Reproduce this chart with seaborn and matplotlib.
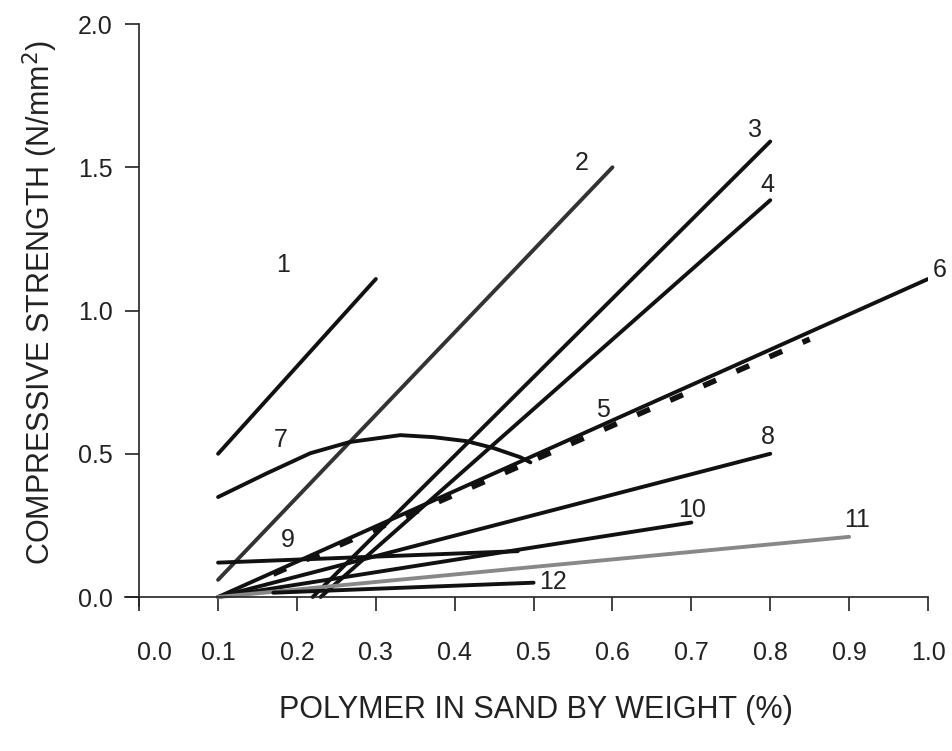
import pandas as pd
import matplotlib.pyplot as plt
import matplotlib.transforms as mtransforms
import seaborn as sns

# line end points (polymer %, strength N/mm2)
line_ids = ["1", "2", "3", "4", "5", "6", "8", "9", "10", "11", "12"]
line_x = [[0.1, 0.3], [0.1, 0.6], [0.22, 0.8], [0.23, 0.8], [0.17, 0.85],
          [0.1, 1.0], [0.1, 0.8], [0.1, 0.48], [0.1, 0.7], [0.1, 0.9], [0.17, 0.5]]
line_y = [[0.5, 1.11], [0.06, 1.5], [0.0, 1.59], [0.0, 1.385], [0.08, 0.9],
          [0.0, 1.11], [0.0, 0.5], [0.12, 0.16], [0.0, 0.26], [0.0, 0.21], [0.015, 0.05]]

# curve 7
curve7_x = [0.1, 0.162, 0.217, 0.267, 0.331, 0.373, 0.415, 0.449, 0.483, 0.496]
curve7_y = [0.349, 0.432, 0.502, 0.541, 0.565, 0.558, 0.544, 0.52, 0.488, 0.47]

# curve number labels
label_text = ["1", "2", "3", "4", "5", "6", "7", "8", "9", "10", "11", "12"]
label_x = [0.183, 0.561, 0.781, 0.796, 0.588, 1.015, 0.179, 0.797, 0.188, 0.701, 0.91, 0.525]
label_y = [1.158, 1.514, 1.629, 1.437, 0.652, 1.141, 0.548, 0.558, 0.199, 0.303, 0.269, 0.052]

xticks = [0.0, 0.1, 0.2, 0.3, 0.4, 0.5, 0.6, 0.7, 0.8, 0.9, 1.0]
yticks = [0.0, 0.5, 1.0, 1.5, 2.0]

sns.set_theme(style="ticks")
plt.rcParams["font.family"] = ["Liberation Sans", "DejaVu Sans"]

fig = plt.figure(figsize=(9.52, 7.51), dpi=100)
ax = fig.add_axes([0.1313, 0.1936, 0.8435, 0.7744])

colors = {"2": "#333333", "11": "#888888"}
for lid, xs, ys in zip(line_ids, line_x, line_y):
    df = pd.DataFrame({"x": xs, "y": ys})
    if lid == "5":
        sns.lineplot(data=df, x="x", y="y", ax=ax, color="#111111", lw=4.0,
                     estimator=None, sort=False)
        ax.lines[-1].set_dashes([2.5, 4])
    else:
        sns.lineplot(data=df, x="x", y="y", ax=ax, color=colors.get(lid, "#111111"),
                     lw=2.8, estimator=None, sort=False)

df7 = pd.DataFrame({"x": curve7_x, "y": curve7_y})
sns.lineplot(data=df7, x="x", y="y", ax=ax, color="#111111", lw=2.8,
             estimator=None, sort=False)

for t, lx, ly in zip(label_text, label_x, label_y):
    ax.text(lx, ly, t, fontsize=18, ha="center", va="center", color="#222222")

ax.set_xlim(-0.018, 1.0)
ax.set_ylim(-0.03, 2.0)
ax.spines["left"].set_position(("data", 0))
ax.spines["bottom"].set_position(("data", 0))
ax.spines["right"].set_visible(False)
ax.spines["top"].set_visible(False)
for s in ["left", "bottom"]:
    ax.spines[s].set_color("#222222")
    ax.spines[s].set_linewidth(1.2)

ax.set_xticks(xticks)
ax.set_xticklabels([f"{v:.1f}" for v in xticks])
ax.set_yticks(yticks)
ax.set_yticklabels([f"{v:.1f}" for v in yticks])
ax.tick_params(axis="x", direction="out", length=10, width=1.2, pad=22,
               labelsize=18, color="#222222", labelcolor="#222222")
ax.tick_params(axis="y", direction="out", length=10, width=1.2, pad=9,
               labelsize=18, color="#222222", labelcolor="#222222")

# the first x label sits a little right of its tick in the original
first = ax.get_xticklabels()[0]
first.set_transform(first.get_transform() +
                    mtransforms.ScaledTranslation(0.15, 0, fig.dpi_scale_trans))

ax.set_xlabel("POLYMER IN SAND BY WEIGHT (%)", fontsize=22, color="#222222", va="center")
ax.set_ylabel("COMPRESSIVE STRENGTH (N/mm$^2$)", fontsize=22, color="#222222", va="center")
ax.xaxis.set_label_coords(0.512, -0.18)
ax.yaxis.set_label_coords(-0.106, 0.522)

fig.savefig("out.png", dpi=100, facecolor="white")
